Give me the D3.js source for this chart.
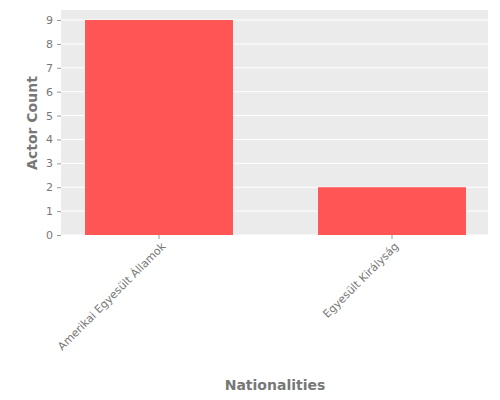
<!DOCTYPE html><html><head><meta charset="utf-8"><script src="https://cdn.jsdelivr.net/npm/d3@7"></script>
<style>body{margin:0;background:#fff}text{font-family:"DejaVu Sans",sans-serif}</style></head><body><svg width="500" height="400"></svg>
<script>
const categories=["Amerikai Egyesült Államok","Egyesült Királyság"];
const counts=[9,2];
const yTicks=[0,1,2,3,4,5,6,7,8,9];
const svg=d3.select("svg");
const L=61,R=488,T=10,B=235;
const x=d3.scaleBand().domain(categories).range([42.5,508.5]).paddingInner(0.365).paddingOuter(0.1825);
const y=d3.scaleLinear().domain([0,9.42]).range([B,T]);
svg.append("rect").attr("x",L).attr("y",T).attr("width",R-L).attr("height",B-T).attr("fill","#ebebeb");
yTicks.forEach(t=>svg.append("line").attr("x1",L).attr("x2",R).attr("y1",y(t)).attr("y2",y(t)).attr("stroke","#fff").attr("stroke-width",1));
svg.selectAll(".bar").data(categories).enter().append("rect").attr("x",d=>x(d)).attr("width",x.bandwidth()).attr("y",(d,i)=>y(counts[i])).attr("height",(d,i)=>B-y(counts[i])).attr("fill","#ff5555");
const ya=svg.append("g").attr("transform",`translate(${L},0)`).call(d3.axisLeft(y).tickValues(yTicks).tickSize(4).tickPadding(4));
ya.select(".domain").remove();ya.selectAll("line").attr("stroke","#999");ya.selectAll("text").attr("fill","#777").style("font-size","11px");
const xa=svg.append("g").attr("transform",`translate(0,${B})`).call(d3.axisBottom(x).tickSize(4));
xa.select(".domain").remove();xa.selectAll("line").attr("stroke","#999");
xa.selectAll("text").attr("fill","#777").style("font-size","11px").attr("text-anchor","end").attr("dx","-0.3em").attr("dy","0.6em").attr("transform","rotate(-45)");
svg.append("text").attr("x",275).attr("y",390).attr("text-anchor","middle").attr("fill","#777").style("font-size","14px").style("font-weight","bold").text("Nationalities");
svg.append("text").attr("transform","translate(37,123) rotate(-90)").attr("text-anchor","middle").attr("fill","#777").style("font-size","14px").style("font-weight","bold").text("Actor Count");
</script></body></html>
